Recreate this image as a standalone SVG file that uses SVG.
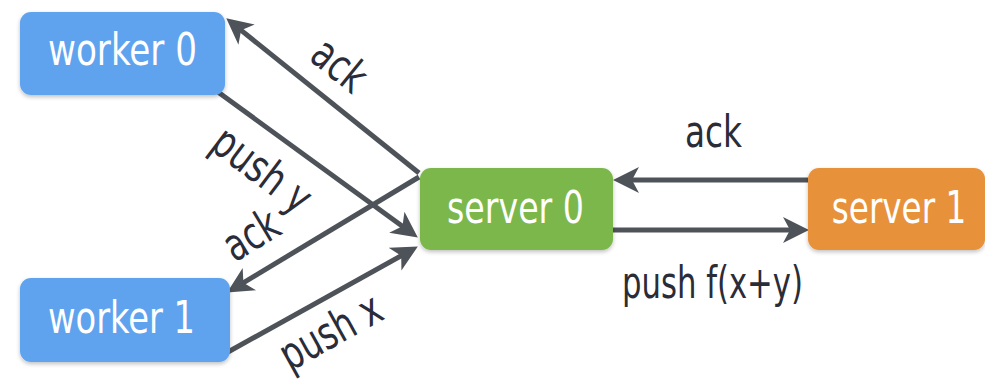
<svg xmlns="http://www.w3.org/2000/svg" width="985" height="382" viewBox="0 0 985 382">
  <style>
    .box { stroke: none; filter: url(#shadow); }
    .worker { fill: #5fa3ef; }
    .server0 { fill: #7cb74b; }
    .server1 { fill: #e8913a; }
    .nodetext { font-family: "DejaVu Sans Condensed", "DejaVu Sans", sans-serif; font-stretch: condensed; font-size: 44px; fill: #ffffff; text-anchor: middle; }
    .edge { stroke: #4e5359; stroke-width: 5; fill: none; marker-end: url(#arrow); }
    .label { font-family: "DejaVu Sans Condensed", "DejaVu Sans", sans-serif; font-stretch: condensed; font-size: 45px; fill: #2a2c38; text-anchor: middle; }
  </style>
  <defs>
    <marker id="arrow" markerUnits="userSpaceOnUse" markerWidth="28" markerHeight="28" refX="12" refY="13" orient="auto" viewBox="0 0 28 26">
      <path d="M0,0 L26,13 L0,26 L7,13 Z" fill="#4e5359"/>
    </marker>
    <filter id="shadow" x="-5%" y="-10%" width="110%" height="130%">
      <feGaussianBlur in="SourceAlpha" stdDeviation="2"/>
      <feOffset dx="0" dy="2" result="blur"/>
      <feComponentTransfer><feFuncA type="linear" slope="0.25"/></feComponentTransfer>
      <feMerge><feMergeNode/><feMergeNode in="SourceGraphic"/></feMerge>
    </filter>
  </defs>

  <rect width="985" height="382" fill="#ffffff"/>

  <!-- connectors -->
  <g id="connectors">
    <line class="edge" x1="419" y1="173" x2="237.2" y2="27.1"/>
    <line class="edge" x1="218" y1="92" x2="406.5" y2="229.3"/>
    <line class="edge" x1="419" y1="177" x2="239.1" y2="285.3"/>
    <line class="edge" x1="228" y1="352" x2="405.6" y2="253.3"/>
    <line class="edge" x1="808" y1="180" x2="627" y2="180"/>
    <line class="edge" x1="613" y1="230" x2="795" y2="230"/>

    <text class="label" transform="translate(330,77) rotate(39)" textLength="57" lengthAdjust="spacingAndGlyphs">ack</text>
    <text class="label" transform="translate(253,182) rotate(37)" textLength="112" lengthAdjust="spacingAndGlyphs">push y</text>
    <text class="label" transform="translate(259,248) rotate(-31)" textLength="57" lengthAdjust="spacingAndGlyphs">ack</text>
    <text class="label" transform="translate(338,345) rotate(-29)" textLength="110" lengthAdjust="spacingAndGlyphs">push x</text>
    <text class="label" x="713.5" y="147" textLength="57" lengthAdjust="spacingAndGlyphs">ack</text>
    <text class="label" x="712.5" y="298" textLength="181" lengthAdjust="spacingAndGlyphs">push f(x+y)</text>
  </g>

  <!-- nodes -->
  <g id="worker0">
    <rect class="box worker" x="20" y="12" width="205" height="83" rx="11"/>
    <text class="nodetext" x="122.5" y="65" textLength="149" lengthAdjust="spacingAndGlyphs">worker 0</text>
  </g>
  <g id="worker1">
    <rect class="box worker" x="20" y="278" width="210" height="84" rx="11"/>
    <text class="nodetext" x="121.5" y="333" textLength="147" lengthAdjust="spacingAndGlyphs">worker 1</text>
  </g>
  <g id="server0">
    <rect class="box server0" x="420" y="168" width="193" height="82" rx="11"/>
    <text class="nodetext" x="515.5" y="223" textLength="137" lengthAdjust="spacingAndGlyphs">server 0</text>
  </g>
  <g id="server1">
    <rect class="box server1" x="808" y="168" width="177" height="82" rx="11"/>
    <!-- horizontally squeezed so the label stays well inside the right edge -->
    <text class="nodetext" transform="translate(899,223) scale(0.8,1)" textLength="168" lengthAdjust="spacingAndGlyphs">server 1</text>
  </g>
</svg>
